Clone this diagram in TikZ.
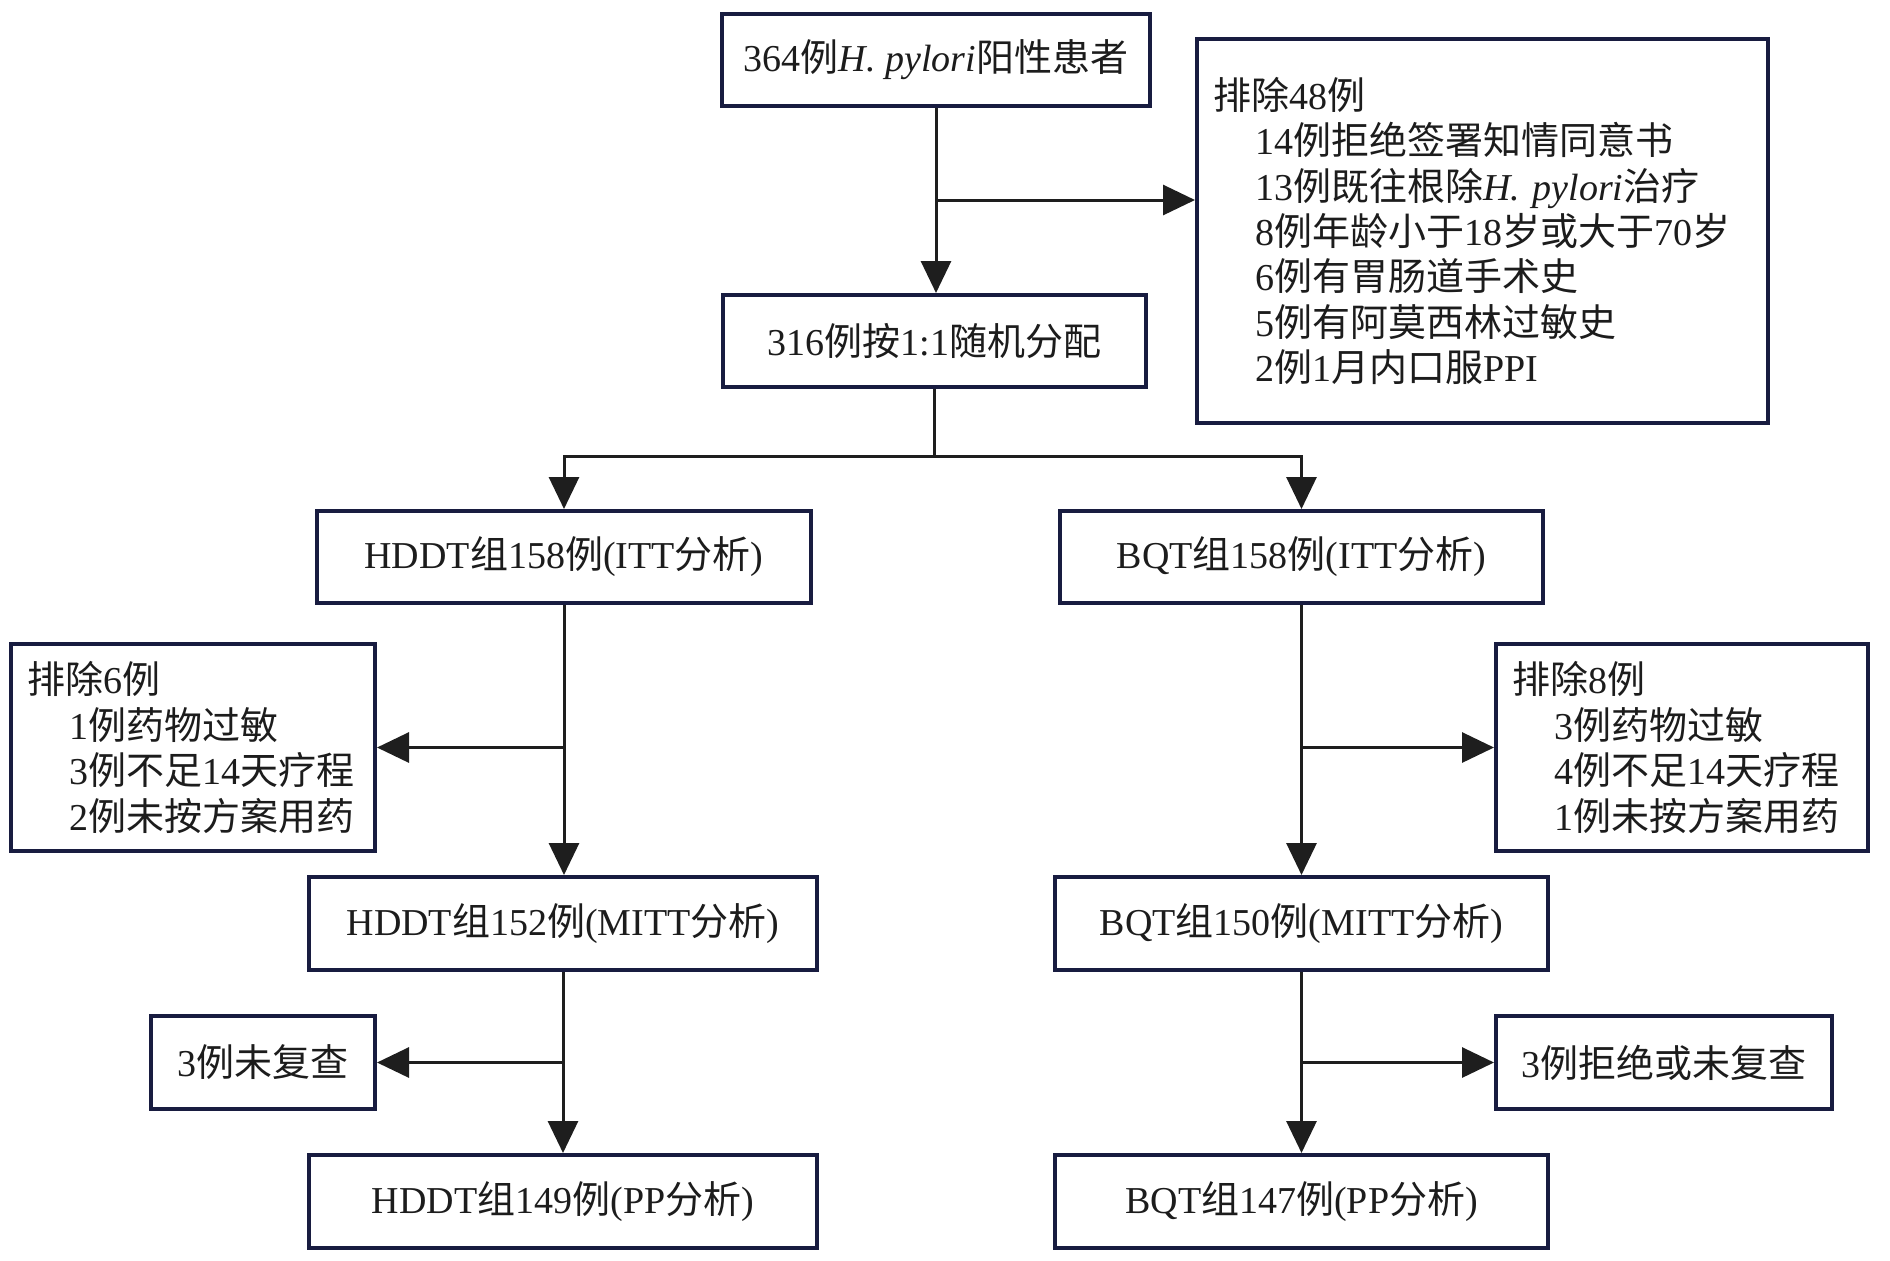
\documentclass[tikz,border=0pt]{standalone}
\usepackage{fontspec}
\setmainfont{Liberation Serif}
\newfontfamily\cjkfont{Noto Sans CJK SC}
\newcommand{\zh}[1]{{\cjkfont #1}}
\newcommand{\ind}{\hspace*{21pt}}
\usetikzlibrary{arrows.meta,calc}
\definecolor{boxline}{RGB}{24,28,64}
\definecolor{arrline}{RGB}{30,30,30}
\definecolor{txt}{RGB}{28,28,28}

\begin{document}
\begin{tikzpicture}[x=0.5pt,y=-0.5pt,
	box/.style={draw=boxline,line width=2pt,fill=white,text=txt,minimum height=46pt,inner sep=0pt,font=\fontsize{19}{22.7}\selectfont},
	exbox/.style={box,align=left,inner xsep=8pt},
	arr/.style={draw=arrline,line width=1.5pt,-{Triangle[width=15pt,length=16pt]}},
	plain/.style={draw=arrline,line width=1.5pt}]
	%set diagram size: 1890 x 1260
	\useasboundingbox (0,0) rectangle (1890,1260);
	
	% Top part
	\node [box,minimum width=214pt] (start) at (936,60) {364\zh{例}\textit{H. pylori}\zh{阳性患者}};
	\node [exbox,text width=269.5pt,minimum height=192pt] (excl) at (1482.5,231) {\zh{排除}48\zh{例}\\
		\ind 14\zh{例拒绝签署知情同意书}\\
		\ind 13\zh{例既往根除}\textit{H. pylori}\zh{治疗}\\
		\ind 8\zh{例年龄小于}18\zh{岁或大于}70\zh{岁}\\
		\ind 6\zh{例有胃肠道手术史}\\
		\ind 5\zh{例有阿莫西林过敏史}\\
		\ind 2\zh{例}1\zh{月内口服}PPI};
	\node [box,minimum width=211.5pt] (rand) at (934.5,341) {316\zh{例按}1:1\zh{随机分配}};
	
	% ITT
	\node [box,minimum width=247pt] (hddtitt) at (564,557) {HDDT\zh{组}158\zh{例}(ITT\zh{分析})};
	\node [box,minimum width=241.5pt] (bqtitt) at (1301.5,557) {BQT\zh{组}158\zh{例}(ITT\zh{分析})};
	\node [exbox,text width=166pt,minimum height=103.5pt] (hddtex) at (193,747.5) {\zh{排除}6\zh{例}\\
		\ind 1\zh{例药物过敏}\\
		\ind 3\zh{例不足}14\zh{天疗程}\\
		\ind 2\zh{例未按方案用药}};
	\node [exbox,text width=170pt,minimum height=103.5pt] (bqtex) at (1682,747.5) {\zh{排除}8\zh{例}\\
		\ind 3\zh{例药物过敏}\\
		\ind 4\zh{例不足}14\zh{天疗程}\\
		\ind 1\zh{例未按方案用药}};
	
	% MITT
	\node [box,minimum width=254pt,minimum height=46.5pt] (hddtmitt) at (563,923.5) {HDDT\zh{组}152\zh{例}(MITT\zh{分析})};
	\node [box,minimum width=246.5pt,minimum height=46.5pt] (bqtmitt) at (1301.5,923.5) {BQT\zh{组}150\zh{例}(MITT\zh{分析})};
	\node [box,minimum width=112pt,minimum height=46.5pt] (hddtlost) at (263,1062.5) {3\zh{例未复查}};
	\node [box,minimum width=168pt,minimum height=46.5pt] (bqtlost) at (1664,1062.5) {3\zh{例拒绝或未复查}};
	
	% PP
	\node [box,minimum width=254pt,minimum height=46.5pt] (hddtpp) at (563,1201.5) {HDDT\zh{组}149\zh{例}(PP\zh{分析})};
	\node [box,minimum width=246.5pt,minimum height=46.5pt] (bqtpp) at (1301.5,1201.5) {BQT\zh{组}147\zh{例}(PP\zh{分析})};
	
	% Connectors
	\coordinate (j1) at ($(start.south)+(0,92)$);
	\coordinate (j2) at ($(rand.south)+(0,67)$);
	\draw [arr] (start.south) -- (start.south |- rand.north);
	\draw [arr] (j1) -- (j1 -| excl.west);
	\draw [plain] (rand.south) -- (j2);
	\draw [arr] (j2) -| (hddtitt.north);
	\draw [arr] (j2) -| (bqtitt.north);
	
	\draw [arr] (hddtitt.south) -- (hddtitt.south |- hddtmitt.north);
	\draw [arr] (hddtitt.south |- hddtex.east) -- (hddtex.east);
	\draw [arr] (bqtitt.south) -- (bqtitt.south |- bqtmitt.north);
	\draw [arr] (bqtitt.south |- bqtex.west) -- (bqtex.west);
	
	\draw [arr] (hddtmitt.south) -- (hddtmitt.south |- hddtpp.north);
	\draw [arr] (hddtmitt.south |- hddtlost.east) -- (hddtlost.east);
	\draw [arr] (bqtmitt.south) -- (bqtmitt.south |- bqtpp.north);
	\draw [arr] (bqtmitt.south |- bqtlost.west) -- (bqtlost.west);
	
\end{tikzpicture}
\end{document}
